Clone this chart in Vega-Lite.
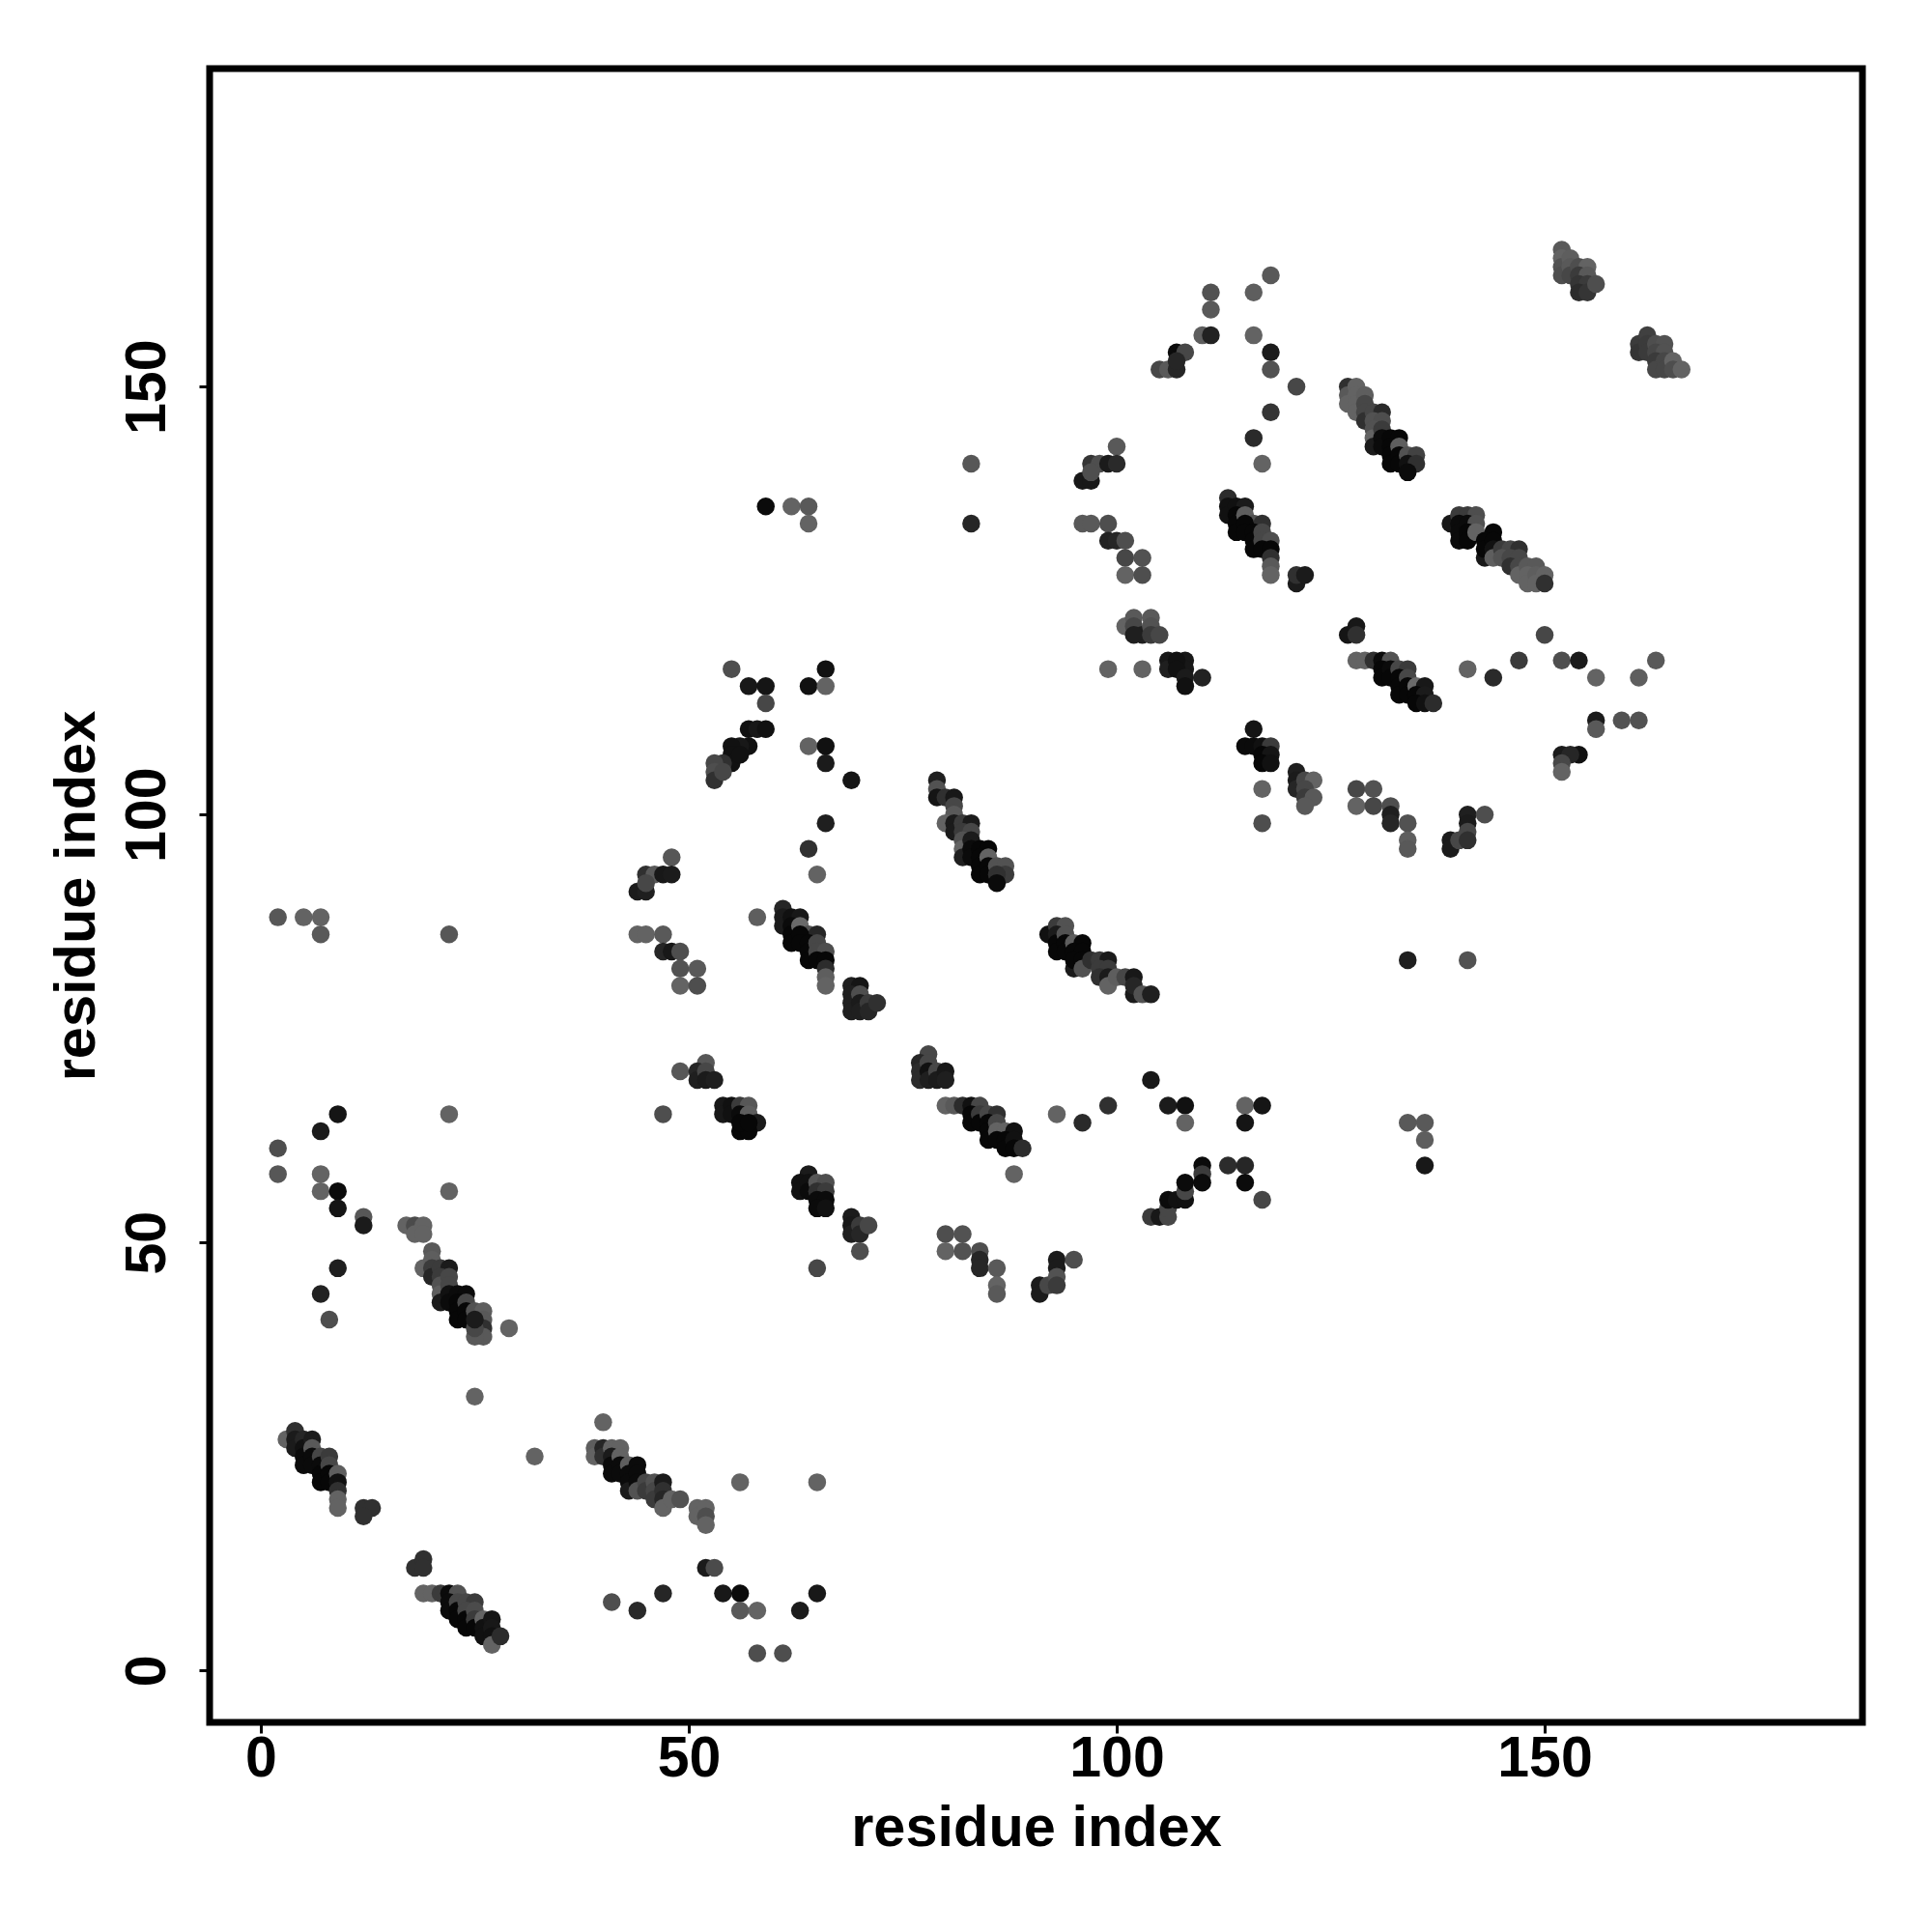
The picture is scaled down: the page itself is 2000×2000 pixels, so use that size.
{"$schema":"https://vega.github.io/schema/vega-lite/v6.json","width":1711,"height":1712,"autosize":{"type":"none"},"padding":{"left":217,"top":71,"right":72,"bottom":217},"background":"white","config":{"view":{"stroke":null}},"data":{"values":[
{"i":3,"j":27,"p":0.42},{"i":4,"j":28,"p":0.2},{"i":4,"j":27,"p":0.1},{"i":4,"j":26,"p":0.1},{"i":5,"j":27,"p":0.15},{"i":5,"j":26,"p":0.05},{"i":5,"j":25,"p":0.03},{"i":5,"j":24,"p":0.03},{"i":6,"j":27,"p":0.1},{"i":6,"j":26,"p":0.38},{"i":6,"j":25,"p":0.03},{"i":6,"j":24,"p":0.03},{"i":7,"j":25,"p":0.3},{"i":7,"j":24,"p":0.03},{"i":7,"j":23,"p":0.02},{"i":7,"j":22,"p":0.02},{"i":8,"j":25,"p":0.25},{"i":8,"j":24,"p":0.3},{"i":8,"j":23,"p":0.02},{"i":8,"j":22,"p":0.02},{"i":9,"j":23,"p":0.4},{"i":9,"j":22,"p":0.05},{"i":9,"j":21,"p":0.2},{"i":9,"j":20,"p":0.42},{"i":9,"j":19,"p":0.42},
{"i":25,"j":32,"p":0.42},{"i":32,"j":25,"p":0.42},{"i":12,"j":19,"p":0.2},{"i":13,"j":19,"p":0.2},{"i":12,"j":18,"p":0.2},{"i":18,"j":12,"p":0.2},{"i":19,"j":13,"p":0.2},{"i":19,"j":12,"p":0.2},
{"i":19,"j":9,"p":0.42},{"i":20,"j":9,"p":0.42},{"i":21,"j":9,"p":0.25},{"i":22,"j":9,"p":0.03},{"i":23,"j":9,"p":0.35},{"i":22,"j":8,"p":0.03},{"i":22,"j":7,"p":0.03},{"i":23,"j":8,"p":0.3},{"i":23,"j":7,"p":0.02},{"i":23,"j":6,"p":0.02},{"i":24,"j":8,"p":0.3},{"i":25,"j":8,"p":0.25},{"i":24,"j":7,"p":0.3},{"i":24,"j":6,"p":0.02},{"i":24,"j":5,"p":0.02},{"i":25,"j":7,"p":0.32},{"i":25,"j":6,"p":0.25},{"i":25,"j":5,"p":0.02},{"i":26,"j":6,"p":0.42},{"i":26,"j":5,"p":0.05},{"i":26,"j":4,"p":0.05},{"i":27,"j":6,"p":0.07},{"i":27,"j":5,"p":0.08},{"i":27,"j":4,"p":0.05},{"i":27,"j":3,"p":0.42},{"i":28,"j":4,"p":0.18},
{"i":40,"j":29,"p":0.42},{"i":39,"j":26,"p":0.4},{"i":39,"j":25,"p":0.42},{"i":40,"j":26,"p":0.15},{"i":40,"j":25,"p":0.2},{"i":41,"j":26,"p":0.42},{"i":42,"j":26,"p":0.42},{"i":41,"j":25,"p":0.1},{"i":41,"j":24,"p":0.03},{"i":41,"j":23,"p":0.03},{"i":42,"j":25,"p":0.42},{"i":42,"j":24,"p":0.03},{"i":42,"j":23,"p":0.03},{"i":43,"j":24,"p":0.4},{"i":43,"j":23,"p":0.03},{"i":43,"j":22,"p":0.03},{"i":43,"j":21,"p":0.1},{"i":44,"j":24,"p":0.03},{"i":44,"j":23,"p":0.03},{"i":44,"j":22,"p":0.03},{"i":44,"j":21,"p":0.35},{"i":45,"j":22,"p":0.3},{"i":45,"j":21,"p":0.25},{"i":46,"j":22,"p":0.35},{"i":46,"j":21,"p":0.3},{"i":46,"j":20,"p":0.25},{"i":47,"j":22,"p":0.1},{"i":47,"j":21,"p":0.2},{"i":47,"j":20,"p":0.15},{"i":47,"j":19,"p":0.42},{"i":48,"j":20,"p":0.42},{"i":49,"j":20,"p":0.35},{"i":51,"j":19,"p":0.42},{"i":51,"j":18,"p":0.42},{"i":52,"j":19,"p":0.42},{"i":52,"j":18,"p":0.33},{"i":52,"j":17,"p":0.42},{"i":52,"j":12,"p":0.1},{"i":53,"j":12,"p":0.32},{"i":41,"j":8,"p":0.33},{"i":44,"j":7,"p":0.17},{"i":47,"j":9,"p":0.15},{"i":54,"j":9,"p":0.08},{"i":56,"j":9,"p":0.03},{"i":56,"j":7,"p":0.38},{"i":58,"j":7,"p":0.42},{"i":63,"j":7,"p":0.1},{"i":65,"j":9,"p":0.08},{"i":58,"j":2,"p":0.33},{"i":61,"j":2,"p":0.33},{"i":56,"j":22,"p":0.42},{"i":65,"j":22,"p":0.42},
{"i":9,"j":65,"p":0.07},{"i":7,"j":63,"p":0.1},{"i":2,"j":61,"p":0.33},{"i":2,"j":58,"p":0.37},{"i":7,"j":58,"p":0.42},{"i":7,"j":56,"p":0.42},{"i":9,"j":56,"p":0.03},{"i":9,"j":54,"p":0.07},{"i":12,"j":53,"p":0.37},{"i":12,"j":52,"p":0.1},{"i":9,"j":47,"p":0.12},{"i":7,"j":44,"p":0.13},{"i":8,"j":41,"p":0.33},{"i":22,"j":65,"p":0.42},{"i":22,"j":56,"p":0.42},{"i":29,"j":40,"p":0.42},
{"i":17,"j":52,"p":0.42},{"i":18,"j":52,"p":0.32},{"i":19,"j":52,"p":0.42},{"i":18,"j":51,"p":0.42},{"i":19,"j":51,"p":0.42},{"i":20,"j":49,"p":0.38},{"i":19,"j":47,"p":0.42},{"i":20,"j":48,"p":0.4},{"i":20,"j":47,"p":0.25},{"i":20,"j":46,"p":0.15},{"i":21,"j":47,"p":0.25},{"i":22,"j":47,"p":0.1},{"i":21,"j":46,"p":0.25},{"i":21,"j":45,"p":0.35},{"i":21,"j":44,"p":0.4},{"i":21,"j":43,"p":0.1},{"i":22,"j":46,"p":0.3},{"i":22,"j":45,"p":0.3},{"i":22,"j":44,"p":0.05},{"i":22,"j":43,"p":0.03},{"i":23,"j":44,"p":0.03},{"i":24,"j":44,"p":0.03},{"i":23,"j":43,"p":0.02},{"i":23,"j":42,"p":0.02},{"i":23,"j":41,"p":0.02},{"i":24,"j":43,"p":0.3},{"i":24,"j":42,"p":0.02},{"i":24,"j":41,"p":0.02},{"i":25,"j":42,"p":0.35},{"i":26,"j":42,"p":0.4},{"i":26,"j":41,"p":0.38},{"i":26,"j":40,"p":0.2},{"i":26,"j":39,"p":0.38},{"i":25,"j":39,"p":0.38},{"i":25,"j":40,"p":0.3},{"i":25,"j":41,"p":0.1},
{"i":2,"j":88,"p":0.37},{"i":5,"j":88,"p":0.42},{"i":7,"j":88,"p":0.42},{"i":7,"j":86,"p":0.38},{"i":22,"j":86,"p":0.37},
{"i":49,"j":70,"p":0.37},{"i":47,"j":65,"p":0.33},{"i":52,"j":71,"p":0.37},{"i":51,"j":70,"p":0.15},{"i":51,"j":69,"p":0.12},{"i":52,"j":70,"p":0.3},{"i":52,"j":69,"p":0.1},{"i":53,"j":69,"p":0.12},{"i":54,"j":66,"p":0.08},{"i":54,"j":65,"p":0.08},{"i":55,"j":66,"p":0.05},{"i":55,"j":65,"p":0.05},{"i":56,"j":66,"p":0.25},{"i":57,"j":66,"p":0.37},{"i":56,"j":65,"p":0.03},{"i":57,"j":65,"p":0.4},{"i":58,"j":64,"p":0.1},{"i":56,"j":63,"p":0.02},{"i":57,"j":63,"p":0.02},{"i":56,"j":64,"p":0.02},{"i":57,"j":64,"p":0.02},
{"i":64,"j":58,"p":0.1},{"i":63,"j":57,"p":0.05},{"i":63,"j":56,"p":0.05},{"i":64,"j":57,"p":0.05},{"i":64,"j":56,"p":0.03},{"i":65,"j":57,"p":0.37},{"i":66,"j":57,"p":0.33},{"i":65,"j":56,"p":0.2},{"i":66,"j":56,"p":0.25},{"i":65,"j":55,"p":0.03},{"i":66,"j":55,"p":0.03},{"i":65,"j":54,"p":0.03},{"i":66,"j":54,"p":0.05},{"i":69,"j":53,"p":0.1},{"i":69,"j":52,"p":0.08},{"i":69,"j":51,"p":0.12},{"i":70,"j":52,"p":0.25},{"i":70,"j":51,"p":0.15},{"i":71,"j":52,"p":0.3},{"i":70,"j":49,"p":0.33},{"i":65,"j":47,"p":0.3},
{"i":48,"j":95,"p":0.37},{"i":45,"j":93,"p":0.2},{"i":46,"j":93,"p":0.38},{"i":47,"j":93,"p":0.08},{"i":48,"j":93,"p":0.1},{"i":44,"j":91,"p":0.1},{"i":45,"j":91,"p":0.12},{"i":45,"j":92,"p":0.3},{"i":44,"j":86,"p":0.42},{"i":45,"j":86,"p":0.42},{"i":47,"j":86,"p":0.38},{"i":47,"j":84,"p":0.15},{"i":48,"j":84,"p":0.08},{"i":49,"j":84,"p":0.33},{"i":49,"j":82,"p":0.35},{"i":51,"j":82,"p":0.38},{"i":49,"j":80,"p":0.42},{"i":51,"j":80,"p":0.33},{"i":58,"j":88,"p":0.4},
{"i":61,"j":89,"p":0.15},{"i":61,"j":88,"p":0.1},{"i":61,"j":87,"p":0.1},{"i":62,"j":88,"p":0.05},{"i":63,"j":88,"p":0.08},{"i":62,"j":87,"p":0.03},{"i":62,"j":86,"p":0.02},{"i":62,"j":85,"p":0.02},{"i":63,"j":87,"p":0.45},{"i":64,"j":86,"p":0.35},{"i":65,"j":86,"p":0.15},{"i":63,"j":86,"p":0.02},{"i":63,"j":85,"p":0.02},{"i":64,"j":85,"p":0.02},{"i":64,"j":84,"p":0.02},{"i":64,"j":83,"p":0.02},{"i":65,"j":85,"p":0.3},{"i":65,"j":84,"p":0.3},{"i":66,"j":84,"p":0.33},{"i":65,"j":83,"p":0.02},{"i":66,"j":83,"p":0.02},{"i":66,"j":82,"p":0.18},{"i":66,"j":81,"p":0.4},{"i":66,"j":80,"p":0.42},
{"i":69,"j":80,"p":0.12},{"i":70,"j":80,"p":0.07},{"i":69,"j":79,"p":0.12},{"i":69,"j":78,"p":0.12},{"i":69,"j":77,"p":0.12},{"i":70,"j":79,"p":0.33},{"i":70,"j":78,"p":0.1},{"i":70,"j":77,"p":0.12},{"i":71,"j":78,"p":0.25},{"i":71,"j":77,"p":0.15},{"i":72,"j":78,"p":0.2},{"i":64,"j":96,"p":0.2},{"i":65,"j":93,"p":0.42},
{"i":79,"j":104,"p":0.12},{"i":79,"j":103,"p":0.35},{"i":79,"j":102,"p":0.07},{"i":80,"j":102,"p":0.2},{"i":81,"j":102,"p":0.08},{"i":81,"j":101,"p":0.3},{"i":81,"j":100,"p":0.38},{"i":80,"j":99,"p":0.42},{"i":81,"j":99,"p":0.1},{"i":81,"j":98,"p":0.1},{"i":82,"j":99,"p":0.25},{"i":83,"j":99,"p":0.1},{"i":82,"j":98,"p":0.25},{"i":83,"j":98,"p":0.3},{"i":82,"j":97,"p":0.35},{"i":82,"j":96,"p":0.42},{"i":82,"j":95,"p":0.12},{"i":83,"j":97,"p":0.1},{"i":83,"j":96,"p":0.03},{"i":83,"j":95,"p":0.03},{"i":84,"j":96,"p":0.02},{"i":85,"j":96,"p":0.02},{"i":84,"j":95,"p":0.02},{"i":84,"j":94,"p":0.02},{"i":84,"j":93,"p":0.02},{"i":85,"j":95,"p":0.42},{"i":85,"j":94,"p":0.02},{"i":85,"j":93,"p":0.02},{"i":86,"j":94,"p":0.35},{"i":87,"j":94,"p":0.35},{"i":87,"j":93,"p":0.25},{"i":86,"j":93,"p":0.2},{"i":86,"j":92,"p":0.03},
{"i":92,"j":86,"p":0.05},{"i":93,"j":87,"p":0.25},{"i":94,"j":87,"p":0.35},{"i":93,"j":86,"p":0.1},{"i":93,"j":85,"p":0.02},{"i":93,"j":84,"p":0.02},{"i":94,"j":86,"p":0.35},{"i":94,"j":85,"p":0.02},{"i":94,"j":84,"p":0.02},{"i":95,"j":85,"p":0.4},{"i":96,"j":85,"p":0.02},{"i":95,"j":84,"p":0.02},{"i":96,"j":84,"p":0.02},{"i":95,"j":82,"p":0.1},{"i":95,"j":83,"p":0.02},{"i":96,"j":83,"p":0.02},{"i":96,"j":82,"p":0.35},{"i":97,"j":83,"p":0.2},{"i":98,"j":83,"p":0.25},{"i":99,"j":83,"p":0.1},{"i":98,"j":82,"p":0.25},{"i":99,"j":82,"p":0.25},{"i":98,"j":81,"p":0.2},{"i":99,"j":81,"p":0.1},{"i":99,"j":80,"p":0.42},{"i":100,"j":81,"p":0.4},{"i":101,"j":81,"p":0.3},{"i":102,"j":81,"p":0.08},{"i":102,"j":79,"p":0.1},{"i":102,"j":80,"p":0.15},{"i":103,"j":79,"p":0.35},{"i":104,"j":79,"p":0.12},
{"i":78,"j":72,"p":0.3},{"i":77,"j":71,"p":0.15},{"i":77,"j":70,"p":0.18},{"i":77,"j":69,"p":0.18},{"i":78,"j":71,"p":0.3},{"i":78,"j":70,"p":0.05},{"i":78,"j":69,"p":0.12},{"i":79,"j":70,"p":0.3},{"i":79,"j":69,"p":0.1},{"i":80,"j":70,"p":0.08},{"i":80,"j":69,"p":0.12},
{"i":80,"j":66,"p":0.42},{"i":81,"j":66,"p":0.38},{"i":82,"j":66,"p":0.18},{"i":83,"j":66,"p":0.05},{"i":84,"j":66,"p":0.3},{"i":83,"j":65,"p":0.02},{"i":83,"j":64,"p":0.02},{"i":84,"j":65,"p":0.25},{"i":84,"j":64,"p":0.02},{"i":85,"j":65,"p":0.3},{"i":86,"j":65,"p":0.2},{"i":85,"j":64,"p":0.02},{"i":85,"j":63,"p":0.02},{"i":85,"j":62,"p":0.02},{"i":86,"j":64,"p":0.3},{"i":86,"j":63,"p":0.42},{"i":87,"j":63,"p":0.42},{"i":88,"j":63,"p":0.05},{"i":86,"j":62,"p":0.02},{"i":87,"j":62,"p":0.02},{"i":87,"j":61,"p":0.02},{"i":88,"j":62,"p":0.05},{"i":88,"j":61,"p":0.02},{"i":89,"j":61,"p":0.18},{"i":88,"j":58,"p":0.42},
{"i":93,"j":65,"p":0.42},{"i":96,"j":64,"p":0.17},{"i":99,"j":66,"p":0.2},{"i":104,"j":69,"p":0.08},{"i":106,"j":66,"p":0.1},{"i":108,"j":66,"p":0.05},{"i":108,"j":64,"p":0.42},
{"i":80,"j":51,"p":0.33},{"i":82,"j":51,"p":0.35},{"i":80,"j":49,"p":0.42},{"i":82,"j":49,"p":0.35},{"i":84,"j":49,"p":0.33},{"i":84,"j":48,"p":0.15},{"i":84,"j":47,"p":0.15},{"i":86,"j":47,"p":0.38},{"i":86,"j":45,"p":0.42},{"i":86,"j":44,"p":0.38},{"i":91,"j":45,"p":0.1},{"i":91,"j":44,"p":0.1},{"i":92,"j":45,"p":0.3},{"i":93,"j":48,"p":0.1},{"i":93,"j":47,"p":0.1},{"i":93,"j":46,"p":0.35},{"i":93,"j":45,"p":0.25},{"i":95,"j":48,"p":0.33},
{"i":104,"j":53,"p":0.25},{"i":105,"j":53,"p":0.08},{"i":106,"j":53,"p":0.3},{"i":106,"j":54,"p":0.3},{"i":106,"j":55,"p":0.03},{"i":107,"j":55,"p":0.05},{"i":108,"j":55,"p":0.05},{"i":108,"j":56,"p":0.3},{"i":108,"j":57,"p":0.03},{"i":110,"j":59,"p":0.03},{"i":110,"j":58,"p":0.25},{"i":110,"j":57,"p":0.03},{"i":113,"j":59,"p":0.18},{"i":115,"j":59,"p":0.15},{"i":115,"j":57,"p":0.03},{"i":117,"j":55,"p":0.3},{"i":115,"j":66,"p":0.42},{"i":117,"j":66,"p":0.07},{"i":115,"j":64,"p":0.07},
{"i":134,"j":83,"p":0.12},{"i":141,"j":83,"p":0.35},{"i":134,"j":64,"p":0.38},{"i":136,"j":64,"p":0.38},{"i":136,"j":62,"p":0.4},{"i":136,"j":59,"p":0.08},
{"i":127,"j":121,"p":0.07},{"i":128,"j":122,"p":0.08},{"i":128,"j":121,"p":0.2},{"i":128,"j":118,"p":0.42},{"i":129,"j":118,"p":0.42},{"i":130,"j":118,"p":0.2},{"i":131,"j":118,"p":0.03},{"i":132,"j":118,"p":0.35},{"i":131,"j":117,"p":0.02},{"i":131,"j":116,"p":0.02},{"i":132,"j":117,"p":0.03},{"i":132,"j":116,"p":0.02},{"i":133,"j":117,"p":0.3},{"i":134,"j":117,"p":0.25},{"i":133,"j":116,"p":0.02},{"i":133,"j":115,"p":0.02},{"i":133,"j":114,"p":0.02},{"i":134,"j":116,"p":0.3},{"i":134,"j":115,"p":0.02},{"i":134,"j":114,"p":0.02},{"i":135,"j":115,"p":0.45},{"i":136,"j":115,"p":0.08},{"i":135,"j":114,"p":0.02},{"i":136,"j":114,"p":0.1},{"i":135,"j":113,"p":0.02},{"i":136,"j":113,"p":0.05},{"i":137,"j":113,"p":0.18},
{"i":141,"j":117,"p":0.42},{"i":144,"j":116,"p":0.17},{"i":147,"j":118,"p":0.25},{"i":116,"j":110,"p":0.07},{"i":115,"j":108,"p":0.03},{"i":116,"j":108,"p":0.03},{"i":117,"j":108,"p":0.05},{"i":118,"j":108,"p":0.25},{"i":117,"j":107,"p":0.02},{"i":118,"j":107,"p":0.07},{"i":117,"j":106,"p":0.02},{"i":118,"j":106,"p":0.05},{"i":117,"j":103,"p":0.42},{"i":117,"j":99,"p":0.33},
{"i":121,"j":105,"p":0.12},{"i":121,"j":104,"p":0.1},{"i":121,"j":103,"p":0.15},{"i":122,"j":104,"p":0.3},{"i":123,"j":104,"p":0.42},{"i":122,"j":103,"p":0.3},{"i":122,"j":102,"p":0.25},{"i":123,"j":102,"p":0.38},{"i":122,"j":101,"p":0.38},{"i":128,"j":103,"p":0.3},{"i":130,"j":103,"p":0.35},{"i":128,"j":101,"p":0.42},{"i":130,"j":101,"p":0.3},{"i":132,"j":101,"p":0.33},{"i":132,"j":100,"p":0.12},{"i":132,"j":99,"p":0.15},{"i":134,"j":99,"p":0.35},{"i":134,"j":97,"p":0.4},{"i":134,"j":96,"p":0.38},{"i":139,"j":97,"p":0.1},{"i":139,"j":96,"p":0.1},{"i":140,"j":97,"p":0.3},{"i":141,"j":100,"p":0.12},{"i":141,"j":99,"p":0.1},{"i":141,"j":98,"p":0.3},{"i":141,"j":97,"p":0.2},{"i":143,"j":100,"p":0.33},
{"i":127,"j":150,"p":0.2},{"i":127,"j":149,"p":0.38},{"i":127,"j":148,"p":0.42},{"i":128,"j":150,"p":0.42},{"i":128,"j":149,"p":0.42},{"i":128,"j":148,"p":0.42},{"i":128,"j":147,"p":0.42},{"i":129,"j":149,"p":0.4},{"i":129,"j":148,"p":0.3},{"i":129,"j":147,"p":0.3},{"i":129,"j":146,"p":0.2},{"i":130,"j":147,"p":0.3},{"i":131,"j":147,"p":0.17},{"i":130,"j":146,"p":0.35},{"i":131,"j":146,"p":0.33},{"i":130,"j":145,"p":0.35},{"i":130,"j":144,"p":0.42},{"i":130,"j":143,"p":0.1},{"i":131,"j":145,"p":0.25},{"i":131,"j":144,"p":0.03},{"i":131,"j":143,"p":0.03},{"i":132,"j":144,"p":0.02},{"i":133,"j":144,"p":0.02},{"i":132,"j":143,"p":0.02},{"i":132,"j":142,"p":0.02},{"i":132,"j":141,"p":0.02},{"i":133,"j":143,"p":0.4},{"i":133,"j":142,"p":0.02},{"i":133,"j":141,"p":0.02},{"i":134,"j":142,"p":0.35},{"i":135,"j":142,"p":0.28},{"i":134,"j":141,"p":0.05},{"i":135,"j":141,"p":0.2},{"i":134,"j":140,"p":0.03},
{"i":139,"j":134,"p":0.08},{"i":140,"j":135,"p":0.25},{"i":141,"j":135,"p":0.25},{"i":142,"j":135,"p":0.33},{"i":140,"j":134,"p":0.03},{"i":140,"j":133,"p":0.03},{"i":140,"j":132,"p":0.03},{"i":141,"j":134,"p":0.03},{"i":142,"j":134,"p":0.35},{"i":141,"j":133,"p":0.02},{"i":141,"j":132,"p":0.02},{"i":142,"j":133,"p":0.42},{"i":144,"j":133,"p":0.02},{"i":143,"j":132,"p":0.02},{"i":143,"j":130,"p":0.08},{"i":143,"j":131,"p":0.02},{"i":144,"j":132,"p":0.02},{"i":144,"j":131,"p":0.05},{"i":144,"j":130,"p":0.4},{"i":145,"j":131,"p":0.25},{"i":146,"j":131,"p":0.3},{"i":147,"j":131,"p":0.2},{"i":145,"j":130,"p":0.35},{"i":146,"j":130,"p":0.3},{"i":147,"j":130,"p":0.3},{"i":146,"j":129,"p":0.2},{"i":147,"j":129,"p":0.3},{"i":147,"j":128,"p":0.42},{"i":148,"j":129,"p":0.38},{"i":149,"j":129,"p":0.38},{"i":148,"j":128,"p":0.42},{"i":148,"j":127,"p":0.42},{"i":149,"j":128,"p":0.4},{"i":149,"j":127,"p":0.42},{"i":150,"j":128,"p":0.42},{"i":150,"j":127,"p":0.2},
{"i":118,"j":163,"p":0.38},{"i":116,"j":161,"p":0.4},{"i":111,"j":161,"p":0.35},{"i":111,"j":159,"p":0.38},{"i":110,"j":156,"p":0.4},{"i":111,"j":156,"p":0.13},{"i":116,"j":156,"p":0.42},{"i":107,"j":154,"p":0.03},{"i":108,"j":154,"p":0.3},{"i":105,"j":152,"p":0.3},{"i":106,"j":152,"p":0.38},{"i":107,"j":152,"p":0.15},{"i":107,"j":153,"p":0.15},{"i":118,"j":154,"p":0.1},{"i":118,"j":152,"p":0.35},{"i":121,"j":150,"p":0.3},{"i":118,"j":147,"p":0.22},{"i":116,"j":144,"p":0.17},{"i":117,"j":141,"p":0.42},
{"i":100,"j":143,"p":0.38},{"i":97,"j":141,"p":0.22},{"i":98,"j":141,"p":0.33},{"i":99,"j":141,"p":0.1},{"i":100,"j":141,"p":0.17},{"i":96,"j":139,"p":0.08},{"i":97,"j":139,"p":0.08},{"i":97,"j":140,"p":0.33},{"i":96,"j":134,"p":0.38},{"i":97,"j":134,"p":0.38},{"i":99,"j":134,"p":0.33},{"i":99,"j":132,"p":0.13},{"i":100,"j":132,"p":0.15},{"i":101,"j":132,"p":0.33},{"i":101,"j":130,"p":0.3},{"i":103,"j":130,"p":0.35},{"i":101,"j":128,"p":0.42},{"i":103,"j":128,"p":0.33},
{"i":113,"j":137,"p":0.18},{"i":113,"j":136,"p":0.05},{"i":113,"j":135,"p":0.05},{"i":114,"j":136,"p":0.05},{"i":115,"j":136,"p":0.1},{"i":114,"j":135,"p":0.02},{"i":114,"j":134,"p":0.02},{"i":114,"j":133,"p":0.02},{"i":115,"j":135,"p":0.4},{"i":116,"j":134,"p":0.35},{"i":117,"j":134,"p":0.2},{"i":115,"j":134,"p":0.02},{"i":115,"j":133,"p":0.02},{"i":116,"j":133,"p":0.02},{"i":116,"j":132,"p":0.02},{"i":116,"j":131,"p":0.02},{"i":117,"j":133,"p":0.3},{"i":117,"j":132,"p":0.3},{"i":118,"j":132,"p":0.33},{"i":117,"j":131,"p":0.02},{"i":118,"j":131,"p":0.02},{"i":118,"j":130,"p":0.2},{"i":118,"j":129,"p":0.38},{"i":118,"j":128,"p":0.42},{"i":121,"j":127,"p":0.1},{"i":121,"j":128,"p":0.2},{"i":122,"j":128,"p":0.1},
{"i":101,"j":122,"p":0.42},{"i":102,"j":123,"p":0.38},{"i":104,"j":123,"p":0.38},{"i":102,"j":122,"p":0.3},{"i":103,"j":121,"p":0.12},{"i":102,"j":121,"p":0.12},{"i":104,"j":122,"p":0.35},{"i":104,"j":121,"p":0.25},{"i":105,"j":121,"p":0.3},{"i":99,"j":117,"p":0.42},{"i":103,"j":117,"p":0.42},{"i":106,"j":118,"p":0.08},{"i":106,"j":117,"p":0.12},{"i":108,"j":118,"p":0.08},{"i":108,"j":117,"p":0.08},{"i":107,"j":118,"p":0.05},{"i":107,"j":117,"p":0.05},{"i":108,"j":116,"p":0.1},{"i":108,"j":115,"p":0.05},{"i":110,"j":116,"p":0.13},
{"i":150,"j":121,"p":0.3},{"i":152,"j":118,"p":0.33},{"i":154,"j":118,"p":0.1},{"i":156,"j":116,"p":0.42},{"i":161,"j":116,"p":0.4},{"i":163,"j":118,"p":0.38},{"i":156,"j":111,"p":0.1},{"i":156,"j":110,"p":0.38},{"i":159,"j":111,"p":0.35},{"i":161,"j":111,"p":0.35},{"i":152,"j":107,"p":0.1},{"i":154,"j":107,"p":0.05},{"i":153,"j":107,"p":0.15},{"i":152,"j":106,"p":0.3},{"i":152,"j":105,"p":0.42},
{"i":55,"j":117,"p":0.33},{"i":57,"j":115,"p":0.08},{"i":59,"j":115,"p":0.07},{"i":59,"j":113,"p":0.3},{"i":64,"j":115,"p":0.05},{"i":66,"j":117,"p":0.05},{"i":66,"j":115,"p":0.42},{"i":64,"j":108,"p":0.42},{"i":66,"j":108,"p":0.05},{"i":66,"j":106,"p":0.1},{"i":69,"j":104,"p":0.07},{"i":66,"j":99,"p":0.12},{"i":59,"j":136,"p":0.03},{"i":62,"j":136,"p":0.42},{"i":64,"j":136,"p":0.38},{"i":64,"j":134,"p":0.42},{"i":83,"j":141,"p":0.37},{"i":83,"j":134,"p":0.15},
{"i":57,"j":110,"p":0.05},{"i":57,"j":108,"p":0.05},{"i":58,"j":110,"p":0.08},{"i":59,"j":110,"p":0.05},{"i":56,"j":108,"p":0.08},{"i":55,"j":108,"p":0.05},{"i":55,"j":107,"p":0.05},{"i":55,"j":106,"p":0.05},{"i":54,"j":106,"p":0.2},{"i":53,"j":106,"p":0.3},{"i":53,"j":105,"p":0.33},{"i":53,"j":104,"p":0.2},{"i":54,"j":105,"p":0.3},{"i":56,"j":107,"p":0.05},
{"i":152,"j":166,"p":0.38},{"i":152,"j":165,"p":0.42},{"i":152,"j":164,"p":0.35},{"i":152,"j":163,"p":0.33},{"i":153,"j":165,"p":0.4},{"i":153,"j":164,"p":0.38},{"i":153,"j":163,"p":0.3},{"i":154,"j":164,"p":0.33},{"i":155,"j":164,"p":0.42},{"i":154,"j":163,"p":0.25},{"i":155,"j":163,"p":0.38},{"i":154,"j":162,"p":0.22},{"i":155,"j":162,"p":0.25},{"i":154,"j":161,"p":0.18},{"i":155,"j":161,"p":0.22},{"i":156,"j":162,"p":0.33},
{"i":161,"j":155,"p":0.25},{"i":161,"j":154,"p":0.22},{"i":162,"j":156,"p":0.27},{"i":162,"j":155,"p":0.25},{"i":162,"j":154,"p":0.25},{"i":163,"j":155,"p":0.33},{"i":164,"j":155,"p":0.35},{"i":163,"j":154,"p":0.3},{"i":164,"j":154,"p":0.35},{"i":163,"j":153,"p":0.25},{"i":163,"j":152,"p":0.3},{"i":164,"j":153,"p":0.3},{"i":164,"j":152,"p":0.3},{"i":165,"j":153,"p":0.42},{"i":165,"j":152,"p":0.33},{"i":166,"j":152,"p":0.42}
]},
"mark":{"type":"point","filled":true,"shape":"circle","size":342,"opacity":1,"strokeWidth":0,"clip":true},
"encoding":{
"x":{"field":"i","type":"quantitative","scale":{"domain":[-5.98,187.13],"nice":false,"zero":false},"axis":{"values":[0,50,100,150],"grid":false,"domain":false,"tickColor":"black","tickWidth":3,"tickSize":11,"labelFont":"Liberation Sans","labelFontWeight":"bold","labelFontSize":59,"labelColor":"black","labelPadding":-3,"titleFont":"Liberation Sans","titleFontWeight":"bold","titleFontSize":59.5,"titleColor":"black","title":"residue index","titlePadding":13,"labelFlush":false,"labelOverlap":false}},
"y":{"field":"j","type":"quantitative","scale":{"domain":[-6.06,187.16],"nice":false,"zero":false},"axis":{"values":[0,50,100,150],"grid":false,"domain":false,"tickColor":"black","tickWidth":3,"tickSize":11,"labelFont":"Liberation Sans","labelFontWeight":"bold","labelFontSize":59,"labelColor":"black","labelAngle":-90,"labelAlign":"center","labelBaseline":"bottom","labelPadding":24,"titleFont":"Liberation Sans","titleFontWeight":"bold","titleFontSize":59.5,"titleColor":"black","title":"residue index","titlePadding":14,"labelFlush":false,"labelOverlap":false}},
"color":{"field":"p","type":"quantitative","scale":{"domain":[0,1],"range":["#000000","#ffffff"]},"legend":null},
"order":[{"field":"i","type":"quantitative"},{"field":"j","type":"quantitative"}]
},
"view":{"stroke":"black","strokeWidth":7,"fill":"white"}
}
